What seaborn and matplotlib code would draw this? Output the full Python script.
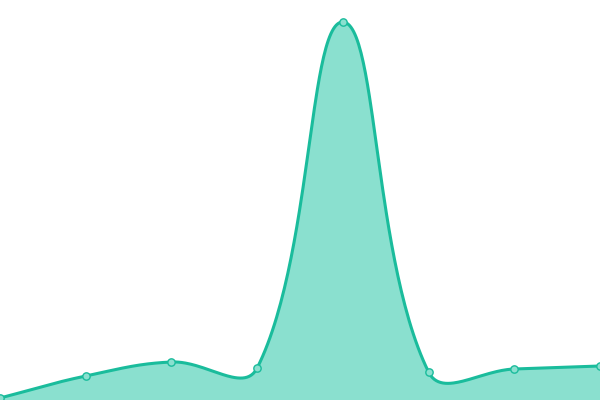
import numpy as np
import pandas as pd
import seaborn as sns
import matplotlib.pyplot as plt

# data (one point per step)
steps = [0, 1, 2, 3, 4, 5, 6, 7]
values = [2, 24, 38, 32, 378, 28, 31, 34]

line_color = "#1abc9c"
fill_color = "#8ae0cf"

W, H = 600, 400
x_px = W / (len(steps) - 1)   # pixels per step, y is 1 px per unit


# bezier smoothing done in pixel space, tension 0.4
def smooth(xs, ys, tension=0.4, n=60):
    px = np.asarray(xs, float) * x_px
    py = np.asarray(ys, float)
    k = len(px)
    cp_prev, cp_next = [], []
    for i in range(k):
        a = i - 1 if i > 0 else i
        c = i + 1 if i < k - 1 else i
        d01 = np.hypot(px[i] - px[a], py[i] - py[a])
        d12 = np.hypot(px[c] - px[i], py[c] - py[i])
        tot = d01 + d12
        s01 = d01 / tot if tot else 0
        s12 = d12 / tot if tot else 0
        fa, fb = tension * s01, tension * s12
        dx, dy = px[c] - px[a], py[c] - py[a]
        cp_prev.append((px[i] - fa * dx, np.clip(py[i] - fa * dy, 0, H)))
        cp_next.append((px[i] + fb * dx, np.clip(py[i] + fb * dy, 0, H)))
    out_x, out_y = [], []
    t = np.linspace(0, 1, n)
    for i in range(k - 1):
        p0 = (px[i], py[i])
        p1 = cp_next[i]
        p2 = cp_prev[i + 1]
        p3 = (px[i + 1], py[i + 1])
        bx = (1 - t)**3 * p0[0] + 3 * (1 - t)**2 * t * p1[0] + 3 * (1 - t) * t**2 * p2[0] + t**3 * p3[0]
        by = (1 - t)**3 * p0[1] + 3 * (1 - t)**2 * t * p1[1] + 3 * (1 - t) * t**2 * p2[1] + t**3 * p3[1]
        out_x.append(bx / x_px)
        out_y.append(by)
    return np.concatenate(out_x), np.concatenate(out_y)


cx, cy = smooth(steps, values)
curve = pd.DataFrame({"x": cx, "y": cy})
points = pd.DataFrame({"x": steps, "y": values})

sns.set_style("white")
fig = plt.figure(figsize=(6, 4), dpi=100)
ax = fig.add_axes([0, 0, 1, 1])

ax.fill_between(curve["x"], curve["y"], 0, color=fill_color, lw=0)
sns.lineplot(data=curve, x="x", y="y", ax=ax, color=line_color, lw=2.2,
             sort=False, estimator=None)
sns.scatterplot(data=points, x="x", y="y", ax=ax, s=28, color=fill_color,
                edgecolor=line_color, linewidth=1, zorder=5, clip_on=False)

ax.set_xlim(0, 7)
ax.set_ylim(0, 400)
ax.axis("off")

plt.savefig("out.png", dpi=100)
